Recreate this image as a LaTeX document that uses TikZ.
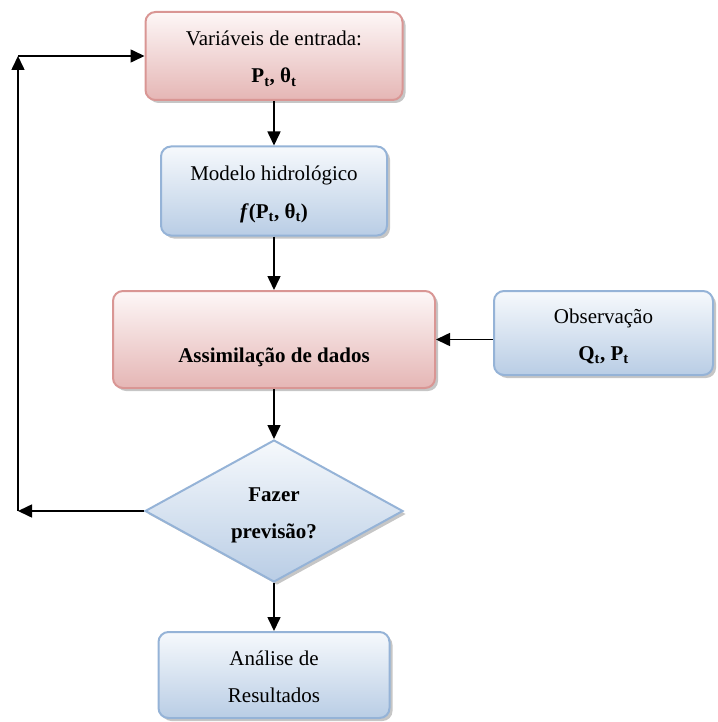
\documentclass[tikz,border=0pt]{standalone}
\usepackage{fontspec}
\setmainfont{Liberation Serif}
\usetikzlibrary{shapes.geometric,shadows,arrows.meta}

\definecolor{redtop}{HTML}{FDF7F7}
\definecolor{redbot}{HTML}{E5B6B5}
\definecolor{redline}{HTML}{D99694}
\definecolor{bluetop}{HTML}{F6F9FC}
\definecolor{bluebot}{HTML}{B9CDE5}
\definecolor{blueline}{HTML}{95B3D7}

\tikzset{
  shade/.style={drop shadow={shadow xshift=3pt, shadow yshift=-3pt, fill=black!50, opacity=0.45}},
  basebox/.style={rounded corners=10pt, line width=2pt, inner sep=0pt, align=center,
    font=\fontsize{21}{37}\selectfont, text height=59pt, text depth=5pt, shade},
  redbox/.style={basebox, draw=redline, top color=redtop, bottom color=redbot},
  bluebox/.style={basebox, draw=blueline, top color=bluetop, bottom color=bluebot},
  decision/.style={diamond, aspect=1.82, line width=2pt, inner sep=0pt, align=center,
    draw=blueline, top color=bluetop, bottom color=bluebot, shade,
    font=\fontsize{21}{37}\selectfont\bfseries, text height=59pt, text depth=5pt},
  arr/.style={line width=1.6pt, -{Triangle[length=14pt,width=13pt]}}
}

\begin{document}
\begin{tikzpicture}[x=1pt,y=-1pt]
\useasboundingbox (0,0) rectangle (717,722);

% process boxes, all centred on the main column x = 274
\node[redbox, minimum width=257pt, minimum height=88pt] (input) at (274,56)
  {Variáveis de entrada:\\ \textbf{P\textsubscript{t}, θ\textsubscript{t}}};
\node[bluebox, minimum width=226pt, minimum height=89pt] (model) at (274,191)
  {Modelo hidrológico\\ \textbf{\textit{f}(P\textsubscript{t}, θ\textsubscript{t})}};
\node[redbox, minimum width=322pt, minimum height=97pt, text height=50pt, text depth=5pt] (assim) at (274,339.5)
  {\textbf{Assimilação de dados}};
\node[bluebox, minimum width=219pt, minimum height=84pt] (obs) at (603.5,333)
  {Observação\\ \textbf{Q\textsubscript{t}, P\textsubscript{t}}};
\node[decision, minimum width=258pt, minimum height=142pt] (ask) at (274,511)
  {Fazer\\ previsão?};
\node[bluebox, minimum width=231pt, minimum height=86pt] (result) at (274,675)
  {Análise de\\ Resultados};

% loop-back corners
\coordinate (lowleft) at (18,511);
\coordinate (upleft) at (18,56);

% connectors
\draw[arr] (input) -- (model);
\draw[arr] (model) -- (assim);
\draw[arr] (obs.west |- assim.east) -- (assim.east);
\draw[arr] (assim) -- (ask);
\draw[arr] (ask) -- (result);
\draw[arr] (ask.west) -- (lowleft);
\draw[arr] (lowleft) -- (upleft);
\draw[arr] (upleft) -- (input.west);
\end{tikzpicture}
\end{document}
